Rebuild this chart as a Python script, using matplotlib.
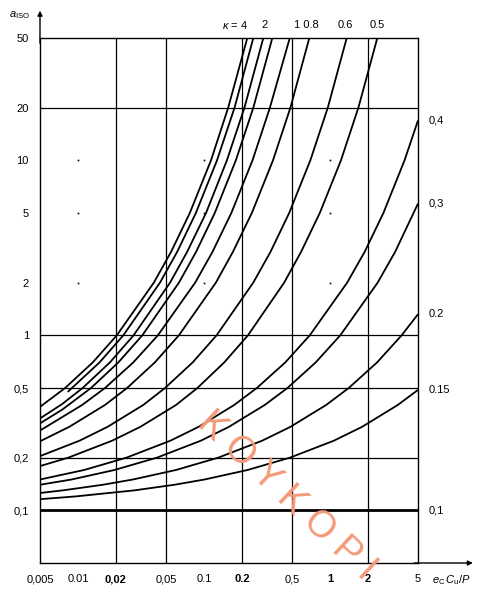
import matplotlib
matplotlib.use("Agg")
from matplotlib import pyplot as plt

plt.rcParams['font.family'] = ['Liberation Sans', 'DejaVu Sans']
plt.rcParams['mathtext.fontset'] = 'custom'
plt.rcParams['mathtext.it'] = 'Liberation Sans:italic'
plt.rcParams['mathtext.rm'] = 'Liberation Sans'

# curves: x = e_C*C_u/P, a = a_ISO
x_k4 = [0.005, 0.00791, 0.01311, 0.02035, 0.04003, 0.05487, 0.07724, 0.1138, 0.1558, 0.2209]
a_k4 = [0.39, 0.5, 0.7, 1, 2, 3, 5, 10, 20, 50]

x_k3 = [0.0083, 0.00896, 0.01484, 0.02292, 0.04479, 0.06135, 0.08629, 0.1270, 0.1750, 0.2466]
a_k3 = [0.475, 0.5, 0.7, 1, 2, 3, 5, 10, 20, 50]

x_k2 = [0.005, 0.0075, 0.0109, 0.01793, 0.02765, 0.05386, 0.07359, 0.1039, 0.1522, 0.2097, 0.296]
a_k2 = [0.335, 0.405, 0.5, 0.7, 1, 2, 3, 5, 10, 20, 50]

x_k15 = [0.005, 0.0075, 0.0127, 0.02093, 0.03244, 0.06334, 0.08667, 0.1219, 0.1792, 0.2467, 0.349]
a_k15 = [0.314, 0.376, 0.5, 0.7, 1, 2, 3, 5, 10, 20, 50]

x_k1 = [0.005, 0.0056, 0.0108, 0.0164, 0.0275, 0.0431, 0.0852, 0.117, 0.165, 0.243, 0.334, 0.48]
a_k1 = [0.286, 0.3, 0.4, 0.5, 0.7, 1, 2, 3, 5, 10, 20, 50]

x_k08 = [0.005, 0.00854, 0.0164, 0.02455, 0.04077, 0.06328, 0.1244, 0.1699, 0.24, 0.3533, 0.4858, 0.686]
a_k08 = [0.248, 0.3, 0.4, 0.5, 0.7, 1, 2, 3, 5, 10, 20, 50]

x_k06 = [0.005, 0.0103, 0.0172, 0.033, 0.04913, 0.08134, 0.126, 0.2463, 0.3377, 0.4749, 0.6991, 0.962, 1.359]
a_k06 = [0.204, 0.25, 0.3, 0.4, 0.5, 0.7, 1, 2, 3, 5, 10, 20, 50]

x_k05 = [0.005, 0.00839, 0.0187, 0.0313, 0.0601, 0.08871, 0.1449, 0.2235, 0.4333, 0.5905, 0.8308, 1.2235, 1.6825, 2.377]
a_k05 = [0.179, 0.2, 0.25, 0.3, 0.4, 0.5, 0.7, 1, 2, 3, 5, 10, 20, 50]

x_k04 = [0.005, 0.0112, 0.0243, 0.0542, 0.0908, 0.174, 0.263, 0.442, 0.692, 1.370, 1.887, 2.657, 3.910, 5]
a_k04 = [0.150, 0.17, 0.2, 0.25, 0.3, 0.4, 0.5, 0.7, 1, 2, 3, 5, 10, 16.9]

x_k03 = [0.005, 0.0089, 0.0195, 0.0424, 0.0946, 0.158, 0.304, 0.460, 0.771, 1.208, 2.392, 3.293, 5]
a_k03 = [0.140, 0.15, 0.17, 0.2, 0.25, 0.3, 0.4, 0.5, 0.7, 1, 2, 3, 5.66]

x_k02 = [0.005, 0.00757, 0.0158, 0.0273, 0.060, 0.130, 0.290, 0.486, 0.934, 1.410, 2.366, 3.707, 5]
a_k02 = [0.1256, 0.13, 0.14, 0.15, 0.17, 0.2, 0.25, 0.3, 0.4, 0.5, 0.7, 1, 1.32]

x_k015 = [0.005, 0.0095, 0.028, 0.0584, 0.101, 0.222, 0.482, 1.075, 1.800, 3.456, 5]
a_k015 = [0.1158, 0.12, 0.13, 0.14, 0.15, 0.17, 0.2, 0.25, 0.3, 0.4, 0.4875]

x_k01 = [0.005, 5]
a_k01 = [0.1, 0.1]

x_ticks = [0.005, 0.01, 0.02, 0.05, 0.1, 0.2, 0.5, 1, 2, 5]
x_labels = ["0,005", "0.01", "0,02", "0,05", "0.1", "0.2", "0,5", "1", "2", "5"]
y_ticks = [0.1, 0.2, 0.5, 1, 2, 5, 10, 20, 50]
y_labels = ["0,1", "0,2", "0,5", "1", "2", "5", "10", "20", "50"]
x_grid = [0.02, 0.05, 0.2, 0.5, 2]
y_grid = [0.2, 0.5, 1, 20]
x_dots = [0.01, 0.1, 1]
y_dots = [2, 5, 10]

right_vals = [16.9, 5.66, 1.32, 0.4875, 0.1]
right_labels = ["0,4", "0,3", "0.2", "0.15", "0,1"]

W, H = 480, 590
fig = plt.figure(figsize=(W / 100, H / 100), dpi=100)
ax = fig.add_axes([40 / W, 27 / H, 378 / W, 525 / H])
ax.set_xscale('log')
ax.set_yscale('log')
ax.set_xlim(0.005, 5)
ax.set_ylim(0.05, 50)

for xv in x_grid:
	ax.axvline(xv, color='k', lw=0.9, zorder=1)
for yv in y_grid:
	ax.axhline(yv, color='k', lw=0.9, zorder=1)

for xd in x_dots:
	for yd in y_dots:
		ax.plot(xd, yd, marker='s', ms=1.2, color='k', mew=0)

curves = [(x_k4, a_k4), (x_k3, a_k3), (x_k2, a_k2), (x_k15, a_k15), (x_k1, a_k1),
		  (x_k08, a_k08), (x_k06, a_k06), (x_k05, a_k05), (x_k04, a_k04),
		  (x_k03, a_k03), (x_k02, a_k02), (x_k015, a_k015)]
for xs, ys in curves:
	ax.plot(xs, ys, color='k', lw=1.3, solid_capstyle='butt', zorder=3)
ax.plot(x_k01, a_k01, color='k', lw=2.0, zorder=3)

ax.set_xticks(x_ticks)
ax.set_xticklabels(x_labels)
ax.set_yticks(y_ticks)
ax.set_yticklabels(y_labels)
ax.minorticks_off()
ax.tick_params(length=0, labelsize=8, pad=8)
for lab in ax.get_xticklabels():
	if lab.get_text() in ("0,02", "0.2", "1", "2"):
		lab.set_fontweight('bold')
for sp in ax.spines.values():
	sp.set_linewidth(1.0)

for v, t in zip(right_vals, right_labels):
	ax.text(1.028, v, t, transform=ax.get_yaxis_transform(), fontsize=8,
			ha='left', va='center')

# axis arrows
ax.annotate('', xy=(0, 1.052), xycoords='axes fraction', xytext=(0, 0.99),
			arrowprops=dict(arrowstyle='-|>', lw=1.0, color='k', mutation_scale=7, shrinkA=0, shrinkB=0))
ax.annotate('', xy=(1.145, 0), xycoords='axes fraction', xytext=(0.99, 0),
			arrowprops=dict(arrowstyle='-|>', lw=1.0, color='k', mutation_scale=7, shrinkA=0, shrinkB=0))

fig.text(20 / W, 1 - 15 / H, r'$a_{\rm ISO}$', fontsize=8, ha='center', va='center')
fig.text(451 / W, 1 - 580 / H, r'$e_{\rm C}\,C_{\rm u}/P$', fontsize=8, ha='center', va='center')

# kappa labels above the curves
fig.text(248 / W, 1 - 25 / H, r'$\kappa$ = 4', fontsize=8, ha='right', va='center')
fig.text(265 / W, 1 - 25 / H, '2', fontsize=8, ha='center', va='center')
fig.text(306 / W, 1 - 25 / H, '1 0.8', fontsize=8, ha='center', va='center')
fig.text(345 / W, 1 - 25 / H, '0.6', fontsize=8, ha='center', va='center')
fig.text(377 / W, 1 - 25 / H, '0.5', fontsize=8, ha='center', va='center')

# watermark
fig.text(203 / W, 1 - 418 / H, 'K O Y K O P I', fontsize=27, color='#f39a78',
		 rotation=-43, ha='left', va='center', rotation_mode='anchor', zorder=0)

fig.savefig('out.png', dpi=100)
